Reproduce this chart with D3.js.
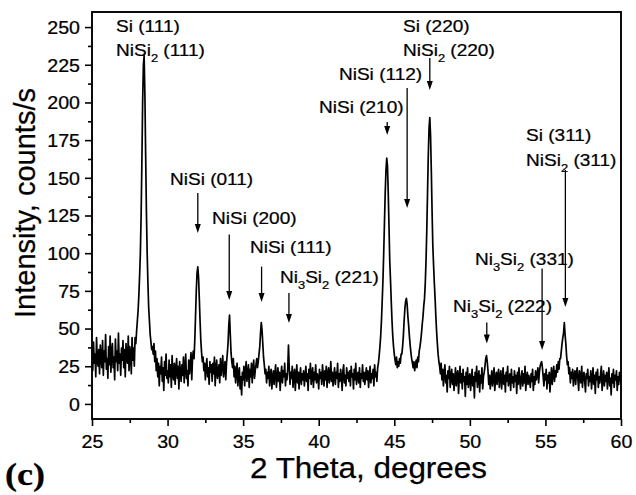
<!DOCTYPE html>
<html><head><meta charset="utf-8">
<script src="https://cdn.jsdelivr.net/npm/d3@7"></script>
<style>
body{margin:0;background:#fff}
svg{display:block}
text{font-family:"Liberation Sans",Arial,Helvetica,sans-serif;fill:#000;stroke:#000;stroke-width:0.25px}
</style>
</head><body>
<svg id="chart" width="636" height="495"></svg>
<script>
// ---- data: XRD scan, 2θ from 25° to 60° sampled every 0.05° ----
const angleStart = 25;
const angleStep = 0.05;
const intensity = [
 38,22,41,27,33,18,44,29,25,36,20,39,31,24,42,19,35,28,46,23, // 25
 30,17,38,26,45,21,34,40,24,31,16,43,28,35,22,47,27,33,19,37, // 26
 29,42,24,36,18,40,31,27,45,22,38,33,20,44,29,37,25,44,40,48, // 27
 55,62,72,85,100,125,160,200,225,231,205,165,128,100,80,64,55,46,41,36, // 28
 38,33,40,28,35,22,30,18,27,12,25,20,31,15,24,9,28,19,33,17, // 29
 22,14,29,18,26,11,32,20,16,27,13,23,30,17,25,10,28,21,15,26, // 30
 19,31,14,24,33,17,22,12,29,20,26,34,16,30,35,30,42,58,75,87, // 31
 91,84,70,55,42,34,28,31,22,27,16,25,30,18,24,13,28,21,26,15, // 32
 27,20,31,12,24,29,17,22,26,14,30,19,25,32,18,23,28,16,27,33, // 33
 40,52,59,46,34,28,24,30,18,25,14,22,27,12,20,24,10,18,6,21, // 34
 16,25,12,22,28,15,20,26,11,23,18,27,14,24,29,17,22,26,30,24, // 35
 28,33,38,47,54,49,40,31,26,20,23,14,21,17,25,12,19,23,10,18, // 36
 22,13,20,26,11,17,24,15,21,9,19,25,14,22,18,27,12,20,16,23, // 37
 39,24,13,21,17,25,11,19,23,9,18,26,14,21,10,19,24,13,20,16, // 38
 22,12,18,25,15,20,9,23,17,27,13,19,24,11,21,16,26,14,20,18, // 39
 10,23,17,21,13,26,19,12,22,16,25,11,20,24,14,18,28,15,21,12, // 40
 19,24,13,21,17,27,11,20,15,23,18,9,22,26,14,19,12,24,17,21, // 41
 15,22,12,25,18,20,10,23,16,27,13,19,21,14,24,11,20,17,26,15, // 42
 21,13,18,24,16,22,11,19,25,14,20,17,23,12,26,18,21,15,24,27, // 43
 32,38,45,55,68,82,100,120,140,155,163,158,140,118,95,82,68,55,45,38, // 44
 33,29,26,31,24,28,25,30,27,33,33,38,45,55,63,68,70,66,58,52, // 45
 45,39,34,30,27,24,28,22,26,29,24,31,28,35,38,42,47,53,58,65, // 46
 70,80,95,115,140,165,183,190,178,155,128,105,92,80,70,58,48,40,33,28, // 47
 25,20,27,16,23,12,21,26,14,19,8,22,17,25,11,18,23,13,20,9, // 48
 16,24,12,19,22,7,17,25,14,20,10,23,15,18,5,21,13,24,11,17, // 49
 20,9,16,23,12,18,4,21,15,25,11,17,22,8,19,14,24,10,18,21, // 50
 25,30,32,28,22,13,19,10,16,22,12,18,24,9,17,21,13,19,23,11, // 51
 18,22,10,16,24,13,19,8,21,15,25,12,17,20,9,23,14,18,11,22, // 52
 15,19,7,21,13,24,16,10,18,22,12,20,14,25,9,17,21,13,19,16, // 53
 11,20,15,23,9,18,13,22,16,19,24,14,21,25,27,28,24,18,12,20, // 54
 16,23,10,19,14,21,8,17,24,13,20,25,15,22,18,26,21,28,23,30, // 55
 30,35,40,44,47,54,46,40,32,26,28,20,24,14,21,17,23,12,19,22, // 56
 13,20,24,16,9,22,18,14,25,11,19,21,15,8,20,17,23,12,18,15, // 57
 22,10,17,24,13,19,7,21,16,23,11,18,14,20,25,9,16,22,12,19, // 58
 15,21,10,18,24,12,17,6,20,14,23,11,19,16,22,9,18,13,21,17, // 59
 14 // 60
];
const xTickValues = [25,30,35,40,45,50,55,60];
const xMinorTicks = [27.5,32.5,37.5,42.5,47.5,52.5,57.5];
const yTickValues = [0,25,50,75,100,125,150,175,200,225,250];
const yMinorTicks = [12.5,37.5,62.5,87.5,112.5,137.5,162.5,187.5,212.5,237.5];
const xTitle = "2 Theta, degrees";
const yTitle = "Intensity, counts/s";
const panelLabel = "(c)";

// peak annotations (label lines; "_n" marks a subscript) and the 2θ each arrow points at
const peakNames = [
 ["Si (111)","NiSi_2 (111)"],
 ["NiSi (011)"],
 ["NiSi (200)"],
 ["NiSi (111)"],
 ["Ni_3Si_2 (221)"],
 ["NiSi (210)"],
 ["NiSi (112)"],
 ["Si (220)","NiSi_2 (220)"],
 ["Si (311)","NiSi_2 (311)"],
 ["Ni_3Si_2 (331)"],
 ["Ni_3Si_2 (222)"]
];
const peakAngles = [28.45, 32.0, 34.08, 36.22, 38.03, 44.53, 45.85, 47.35, 56.32, 54.78, 51.12];

// ---- layout (in data units) ----
const labelAt = [
 {t:26.59, v:[246.7,230.8]},
 {t:30.16, v:[145.2]},
 {t:32.94, v:[119.4]},
 {t:35.45, v:[100.2]},
 {t:37.44, v:[80.3]},
 {t:40.02, v:[193.0]},
 {t:41.34, v:[214.9]},
 {t:45.58, v:[246.7,230.8]},
 {t:53.72, v:[174.4,157.8]},
 {t:50.34, v:[92.2]},
 {t:48.89, v:[61.0]}
];
const arrowSpan = [null,[139.9,113.4],[112.4,68.9],[91.1,67.6],[73.6,53.7],[187.0,178.4],
 [209.6,129.9],[229.5,208.3],[155.2,64.3],[89.9,35.8],[54.0,40.1]];

const SX = 1.12; // horizontal stretch of the original lettering
const svg = d3.select("#chart");
const mLeft = 92, mRight = 621, mTop = 12, mBottom = 419;
const x = d3.scaleLinear().domain([25,60]).range([mLeft,mRight]);
const y = d3.scaleLinear().domain([-10,260]).range([mBottom,mTop]);

const pts = intensity.map((v,i)=>[angleStart + i*angleStep, v]);

svg.append("clipPath").attr("id","clip").append("rect")
 .attr("x",mLeft).attr("y",mTop).attr("width",mRight-mLeft).attr("height",mBottom-mTop);

svg.append("path").datum(pts)
 .attr("clip-path","url(#clip)")
 .attr("fill","none").attr("stroke","#000").attr("stroke-width",1.7)
 .attr("stroke-linejoin","round")
 .attr("d", d3.line().x(d=>x(d[0])).y(d=>y(d[1])));

// axes
const gx = svg.append("g").attr("transform",`translate(0,${mBottom})`)
 .call(d3.axisBottom(x).tickValues(xTickValues).tickSize(7).tickFormat(d3.format("d")));
const gxm = svg.append("g").attr("transform",`translate(0,${mBottom})`)
 .call(d3.axisBottom(x).tickValues(xMinorTicks).tickSize(4).tickFormat(""));
const gy = svg.append("g").attr("transform",`translate(${mLeft},0)`)
 .call(d3.axisLeft(y).tickValues(yTickValues).tickSize(7).tickFormat(d3.format("d")));
const gym = svg.append("g").attr("transform",`translate(${mLeft},0)`)
 .call(d3.axisLeft(y).tickValues(yMinorTicks).tickSize(4).tickFormat(""));
[gx,gxm,gy,gym].forEach(g=>{
 g.select(".domain").remove();
 g.selectAll("line").attr("stroke","#000").attr("stroke-width",1.6);
});
gx.selectAll("text").attr("y",29).attr("dy",null).style("font-size","17.5px")
 .attr("transform",`scale(${SX},1)`).attr("fill","#000");
gy.selectAll("text").attr("x",-12/SX).attr("dy","0.36em").style("font-size","17.5px")
 .attr("transform",`scale(${SX},1)`).attr("fill","#000");
svg.selectAll(".tick text").style("font-family",'"Liberation Sans",Arial,sans-serif');

// frame
svg.append("rect").attr("x",mLeft).attr("y",mTop).attr("width",mRight-mLeft).attr("height",mBottom-mTop)
 .attr("fill","none").attr("stroke","#000").attr("stroke-width",1.9);

// titles
svg.append("text").attr("transform",`translate(368.5,478)`).attr("text-anchor","middle")
 .style("font-size","29px").attr("textLength",237).attr("lengthAdjust","spacingAndGlyphs").text(xTitle);
svg.append("text").attr("transform",`translate(35,203) rotate(-90)`).attr("text-anchor","middle")
 .style("font-size","29px").attr("textLength",230).attr("lengthAdjust","spacingAndGlyphs").text(yTitle);
svg.append("text").attr("x",5).attr("y",485)
 .style("font-family",'"Liberation Serif","Times New Roman",serif').style("font-weight","bold")
 .style("font-size","32px").attr("textLength",40).attr("lengthAdjust","spacingAndGlyphs").text(panelLabel);

// annotation text helper with subscripts
function label(px, py, str){
 const t = svg.append("text").attr("transform",`translate(${px},${py}) scale(${SX},1)`)
  .style("font-size","17px");
 const parts = str.split(/_(\d)/);
 let shift = 0;
 parts.forEach((p,i)=>{
  if(i%2===0){
   if(!p) return;
   t.append("tspan").attr("dy",-shift).text(p); shift = 0;
  } else {
   t.append("tspan").attr("dy",6-shift).style("font-size","11.5px").text(p); shift = 6;
  }
 });
}
const ann = svg.append("g");
peakNames.forEach((lines,i)=>{
 lines.forEach((s,j)=>label(x(labelAt[i].t), y(labelAt[i].v[j]), s));
 const a = arrowSpan[i];
 if(a){
  const ax = x(peakAngles[i]), y0 = y(a[0]), y1 = y(a[1]);
  ann.append("line").attr("x1",ax).attr("x2",ax).attr("y1",y0).attr("y2",y1-6)
   .attr("stroke","#000").attr("stroke-width",1.3);
  ann.append("path").attr("d",`M${ax-3},${y1-9}L${ax+3},${y1-9}L${ax},${y1}Z`).attr("fill","#000");
 }
});
</script>
</body></html>
